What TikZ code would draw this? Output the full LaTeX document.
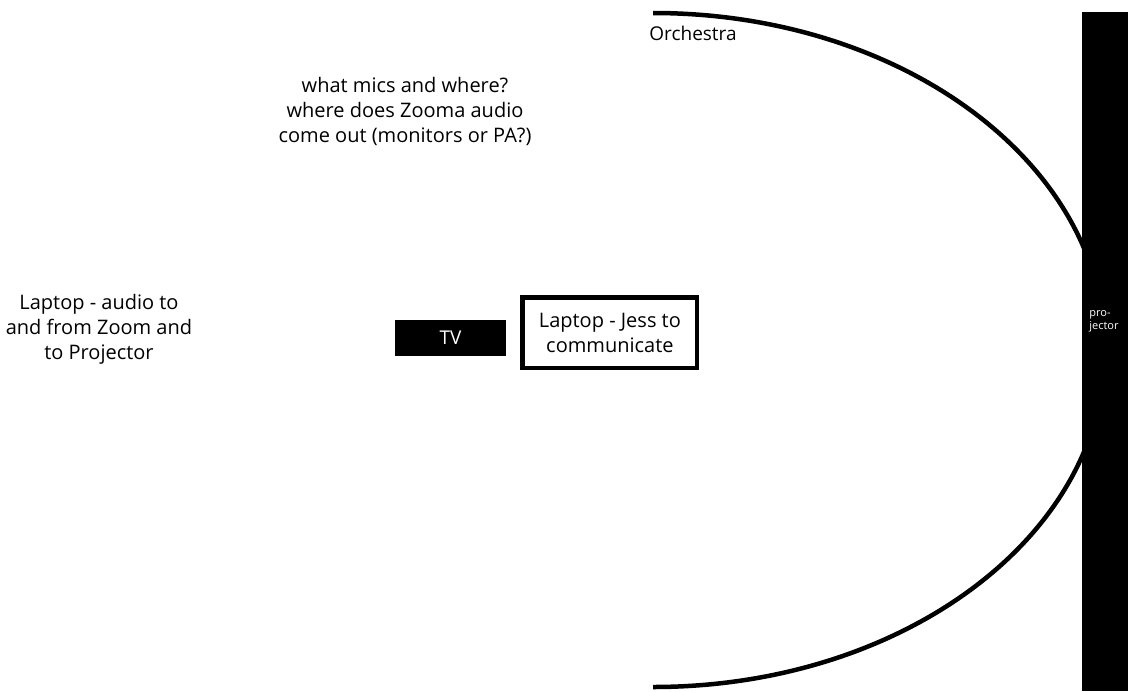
\documentclass[tikz,border=0pt]{standalone}
\usepackage{fontspec}
\setmainfont{Open Sans}
\usepackage{tikz}
\usetikzlibrary{positioning}

\tikzset{
  note/.style={align=center, font=\fontsize{10}{12.5}\selectfont, inner sep=0pt},
  tvbox/.style={fill=black, text=white, inner sep=0pt, minimum width=55.5pt, minimum height=18pt, font=\fontsize{9.5}{11}\selectfont},
  laptopbox/.style={draw, line width=2.25pt, align=center, inner sep=0pt, minimum width=87.25pt, minimum height=35.25pt, font=\fontsize{10}{12.5}\selectfont},
}

\begin{document}
\begin{tikzpicture}[x=0.5pt, y=-0.5pt]
        \useasboundingbox (0,0) rectangle (1128,691);
        % Orchestra arc and projector
        \draw[line width=2.25pt] (653,13) arc[start angle=-90, end angle=90, x radius=452, y radius=337];
        \node (projector) [fill=black, inner sep=0pt, minimum width=23pt, minimum height=339.5pt, anchor=north west] at (1082,12) {};
        \node (projlabel) [text=white, align=left, anchor=west, inner sep=0pt, font=\fontsize{5.5}{6.5}\selectfont] at (1089,321) {pro-\\jector};
        \node (orchestra) [note, font=\fontsize{9.5}{11}\selectfont] at (693,33) {Orchestra};
        % Questions and laptops
        \node (questions) [note] at (405,111) {what mics and where?\\where does Zooma audio\\come out (monitors or PA?)};
        \node (zoomlaptop) [note] at (99,329) {Laptop - audio to\\and from Zoom and\\to Projector};
        \node (tv) [tvbox] at (450.5,338) {TV};
        \node (jesslaptop) [laptopbox, right=7pt of tv, yshift=2.75pt] {Laptop - Jess to\\communicate};
    \end{tikzpicture}
\end{document}
